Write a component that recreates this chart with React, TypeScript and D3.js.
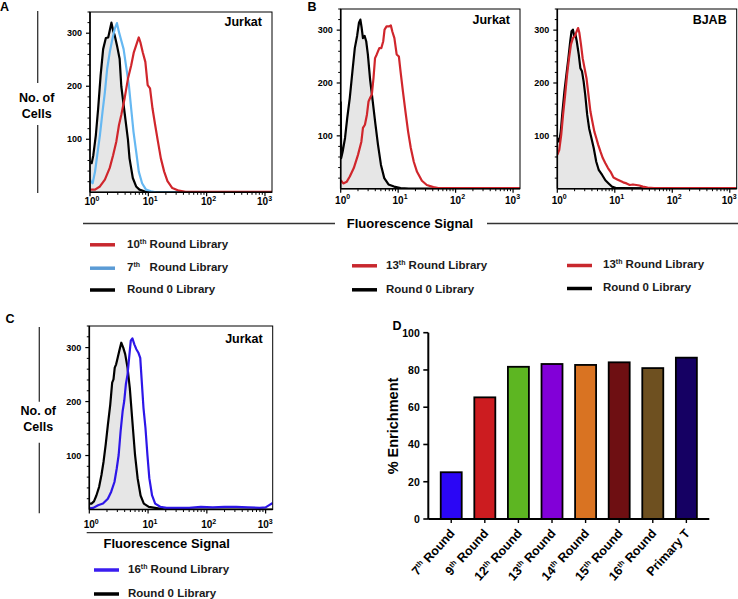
import React from "react";
import * as d3 from "d3";

type P = [number, number];

// ---------------- DATA ----------------
// Histogram series: [fluorescence intensity, number of cells]
const aRound0: P[] = [[1.0,58],[1.07,55],[1.14,70],[1.26,108],[1.38,158],[1.52,220],[1.68,270],[1.87,291],[2.05,292],[2.18,305],[2.33,320],[2.49,305],[2.65,296],[2.9,277],[3.22,252],[3.44,200],[3.92,150],[4.47,100],[4.76,64],[5.42,27],[6.18,11],[7.04,5],[8.55,2],[10.4,0],[1320,0]];
const aRound7: P[] = [[1.0,24],[1.03,21],[1.11,17],[1.22,39],[1.33,70],[1.48,108],[1.64,152],[1.8,189],[1.97,233],[2.18,264],[2.42,289],[2.65,308],[2.9,319],[3.14,302],[3.44,286],[3.77,270],[4.18,236],[4.64,202],[5.08,158],[5.57,114],[6.18,77],[6.86,39],[7.82,17],[9.12,5],[11.1,2],[13.5,0],[1320,0]];
const aRound10: P[] = [[1.0,5],[1.22,5],[1.48,11],[1.8,24],[2.18,46],[2.49,70],[2.83,96],[3.14,127],[3.44,146],[3.92,177],[4.47,214],[5.08,239],[5.64,264],[6.18,277],[6.86,292],[7.31,283],[8.02,264],[8.89,246],[9.75,202],[10.7,196],[11.8,158],[13.1,127],[14.6,96],[16.4,64],[18.7,39],[21.3,21],[25.8,8],[33.5,3],[43.5,1],[1320,1]];

const b1Round0: P[] = [[1.0,165],[1.02,58],[1.08,70],[1.19,96],[1.3,134],[1.44,172],[1.6,222],[1.76,266],[1.93,289],[2.08,314],[2.2,320],[2.32,304],[2.44,285],[2.61,289],[2.78,279],[2.97,254],[3.26,205],[3.61,165],[4.02,122],[4.46,83],[5.02,45],[5.73,20],[6.79,8],[8.49,4],[11.0,1],[15.3,0],[1320,0]];
const b1Round13: P[] = [[1.0,16],[1.11,10],[1.27,13],[1.44,23],[1.69,39],[2.0,64],[2.29,89],[2.44,115],[2.64,121],[2.86,140],[3.05,165],[3.26,172],[3.48,178],[3.72,209],[3.96,247],[4.24,254],[4.7,266],[5.09,266],[5.5,279],[5.8,301],[6.28,307],[6.97,307],[7.45,309],[7.94,297],[8.6,285],[9.42,254],[10.3,250],[11.0,222],[12.1,184],[13.4,146],[14.9,108],[16.6,77],[18.7,51],[21.3,32],[25.9,15],[31.5,7],[41.0,3],[49.9,1],[1320,1]];

const b2Round0: P[] = [[1.0,96],[1.08,89],[1.15,108],[1.23,146],[1.33,184],[1.44,216],[1.56,247],[1.68,279],[1.77,298],[1.87,301],[1.97,289],[2.07,292],[2.18,279],[2.36,254],[2.52,228],[2.69,222],[2.87,203],[3.06,178],[3.31,140],[3.58,114],[3.92,96],[4.3,77],[4.76,51],[5.28,35],[6.03,26],[6.86,16],[7.81,10],[8.89,4],[10.8,1],[1320,0]];
const b2Round13: P[] = [[1.0,64],[1.08,73],[1.17,102],[1.26,140],[1.37,178],[1.48,216],[1.6,247],[1.73,273],[1.87,285],[2.02,289],[2.18,298],[2.3,304],[2.42,295],[2.58,273],[2.76,247],[2.98,228],[3.22,209],[3.48,178],[3.77,146],[4.07,127],[4.41,108],[4.76,96],[5.15,83],[5.64,70],[6.18,58],[6.86,48],[7.61,39],[8.45,32],[9.49,21],[10.8,18],[12.3,15],[14.0,12],[16.0,10],[18.2,7],[20.7,8],[23.6,7],[26.9,6],[30.6,4],[37.2,2],[48.3,1],[1320,1]];

const cRound0: P[] = [[1.0,11],[1.09,11],[1.2,15],[1.32,26],[1.47,42],[1.61,64],[1.75,89],[1.9,120],[2.07,157],[2.27,194],[2.45,235],[2.58,241],[2.71,263],[2.86,269],[3.04,281],[3.24,294],[3.5,309],[3.78,300],[4.08,288],[4.47,263],[4.89,225],[5.41,163],[6.0,101],[6.64,58],[7.45,26],[8.47,11],[10.3,5],[13.2,3],[19.5,0],[1320,0]];
const cRound16: P[] = [[1.0,2],[1.17,3],[1.41,8],[1.71,11],[2.07,20],[2.36,33],[2.68,51],[2.93,76],[3.16,101],[3.41,145],[3.69,182],[3.93,201],[4.19,232],[4.47,250],[4.76,281],[5.08,313],[5.41,317],[5.84,306],[6.31,297],[6.81,291],[7.36,281],[7.74,244],[8.36,188],[9.03,151],[9.75,101],[10.5,58],[11.7,26],[13.2,11],[16.1,5],[20.7,3],[31.6,3],[50,3],[79,5],[126,4],[200,5],[316,5],[500,4],[794,3],[1000,4],[1150,8],[1320,12]];

const xDomainMax = 1320;
const yDomainMax = 340;
const yMajorTicks = [100, 200, 300];
const xMajorTicks = [1, 10, 100, 1000];

// Bar chart D
const barCategories = ["7th Round", "9th Round", "12th Round", "13th Round", "14th Round", "15th Round", "16th Round", "Primary T"];
const barValues = [25.1, 65.3, 81.7, 83.2, 82.7, 84.1, 81.0, 86.6];
const barColors = ["#2b06f5", "#cc1c20", "#5db622", "#8200d8", "#d97322", "#6e0f12", "#6e5020", "#150063"];
const barYTicks = [0, 20, 40, 60, 80, 100];

// ---------------- STYLE ----------------
const FONT = "'Liberation Sans', Arial, Helvetica, sans-serif";
const RED = "#d0262c";
const LIGHTBLUE = "#66b8f2";
const BLUE = "#2d16e8";
const BLACK = "#000";
const FILL = "#e6e6e6";

function SupText(props: any) {
  const { text, supSize, supShift, ...rest } = props;
  const m = text.match(/^(\d+)(th)(.*)$/s);
  if (!m) return <text {...rest} style={{ whiteSpace: "pre" }}>{text}</text>;
  return (
    <text {...rest} style={{ whiteSpace: "pre" }}>
      <tspan>{m[1]}</tspan>
      <tspan fontSize={supSize} dy={-supShift}>{m[2]}</tspan>
      <tspan dy={supShift}>{m[3]}</tspan>
    </text>
  );
}

type Series = { data: P[]; color: string; fill?: boolean };

function Histo(props: { x0: number; x1: number; yb: number; yt: number; series: Series[]; label: string; labelY: number; tickY: number }) {
  const { x0, x1, yb, yt, series, label, labelY, tickY } = props;
  const x = d3.scaleLog().domain([1, xDomainMax]).range([x0, x1]);
  const y = d3.scaleLinear().domain([0, yDomainMax]).range([yb, yt]);
  const line = d3.line<P>().x((d) => x(d[0])).y((d) => y(d[1]));
  const area = d3.area<P>().x((d) => x(d[0])).y0(y(0)).y1((d) => y(d[1]));
  const id = `clip_${Math.round(x0)}_${Math.round(yb)}`;
  const minorX = x.ticks().filter((t) => !xMajorTicks.includes(t) && t <= xDomainMax);
  const minorY = d3.range(20, yDomainMax + 1, 20).filter((t) => !yMajorTicks.includes(t));
  return (
    <g>
      <defs>
        <clipPath id={id}>
          <rect x={x0} y={yt} width={x1 - x0} height={yb - yt} />
        </clipPath>
      </defs>
      <g clipPath={`url(#${id})`}>
        {series.filter((s) => s.fill).map((s, i) => (
          <path key={"f" + i} d={area(s.data) || ""} fill={FILL} stroke="none" />
        ))}
        {series.map((s, i) => (
          <path key={"l" + i} d={line(s.data) || ""} fill="none" stroke={s.color} strokeWidth={2.2} strokeLinejoin="round" />
        ))}
      </g>
      <rect x={x0} y={yt} width={x1 - x0} height={yb - yt} fill="none" stroke="#000" strokeWidth={1} />
      <line x1={x0} x2={x0} y1={yt} y2={yb} stroke="#000" strokeWidth={1.6} />
      <line x1={x0} x2={x1} y1={yb} y2={yb} stroke="#000" strokeWidth={1.6} />
      {yMajorTicks.map((t) => (
        <g key={"ym" + t}>
          <line x1={x0 - 4} x2={x0} y1={y(t)} y2={y(t)} stroke="#000" strokeWidth={1.2} />
          <text x={x0 - 8} y={y(t) + 3.2} textAnchor="end" fontSize={9} fontWeight="bold" fontFamily={FONT}>{t}</text>
        </g>
      ))}
      {minorY.map((t) => (
        <line key={"yn" + t} x1={x0 - 2.5} x2={x0} y1={y(t)} y2={y(t)} stroke="#000" strokeWidth={1} />
      ))}
      {minorX.map((t) => (
        <line key={"xn" + t} x1={x(t)} x2={x(t)} y1={yb} y2={yb + 2.5} stroke="#000" strokeWidth={1} />
      ))}
      {xMajorTicks.map((t, i) => {
        const lx = Math.min(x(t) - 5.6, x1 + 1 - 16);
        return (
          <g key={"xm" + t}>
            <line x1={x(t)} x2={x(t)} y1={yb} y2={yb + 4} stroke="#000" strokeWidth={1.2} />
            <text x={lx} y={tickY} fontSize={10} fontWeight="bold" fontFamily={FONT}>
              10<tspan fontSize={7} dy={-4.5}>{i}</tspan>
            </text>
          </g>
        );
      })}
      <text x={x1 - 10} y={labelY} textAnchor="end" fontSize={12.5} fontWeight="bold" fontFamily={FONT}>{label}</text>
    </g>
  );
}

function Legend(props: { items: { color: string; label: string; y: number }[]; lx: number; tx: number }) {
  const { items, lx, tx } = props;
  return (
    <g>
      {items.map((it, i) => (
        <g key={i}>
          <line x1={lx} x2={lx + 25} y1={it.y + 1.5} y2={it.y + 1.5} stroke={it.color} strokeWidth={3.5} />
          <SupText text={it.label} x={tx} y={it.y + 4.2} fontSize={11.5} fontWeight="bold" fontFamily={FONT} fill="#1a1a1a" supSize={7} supShift={4} />
        </g>
      ))}
    </g>
  );
}

function YTitle(props: { x: number; y1: number; y2: number; y3: number; y4: number; ty: number }) {
  const { x, y1, y2, y3, y4, ty } = props;
  return (
    <g>
      <line x1={x} x2={x} y1={y1} y2={y2} stroke="#333" strokeWidth={1.3} />
      <line x1={x} x2={x} y1={y3} y2={y4} stroke="#333" strokeWidth={1.3} />
      <text x={x - 1} y={ty} textAnchor="middle" fontSize={12.5} fontWeight="bold" fontFamily={FONT}>No. of</text>
      <text x={x - 1} y={ty + 16.5} textAnchor="middle" fontSize={12.5} fontWeight="bold" fontFamily={FONT}>Cells</text>
    </g>
  );
}

function Bars() {
  const xl = 428.3, xr = 709.3, yb = 519, yt = 332.7;
  const x = d3.scaleBand<string>().domain(barCategories).range([xl, xr]).paddingInner(0.375).paddingOuter(0.37);
  const y = d3.scaleLinear().domain([0, 100]).range([yb, yt]);
  return (
    <g>
      {barCategories.map((c, i) => (
        <rect key={c} x={x(c)} y={y(barValues[i])} width={x.bandwidth()} height={y(0) - y(barValues[i])} fill={barColors[i]} stroke="#000" strokeWidth={1.8} />
      ))}
      <line x1={xl} x2={xl} y1={yt} y2={yb} stroke="#000" strokeWidth={2} />
      <line x1={xl} x2={xr} y1={yb} y2={yb} stroke="#000" strokeWidth={2} />
      {barYTicks.map((t) => (
        <g key={t}>
          <line x1={xl - 5} x2={xl} y1={y(t)} y2={y(t)} stroke="#000" strokeWidth={1.6} />
          <text x={xl - 8.5} y={y(t) + 3.8} textAnchor="end" fontSize={10.5} fontWeight="bold" fontFamily={FONT}>{t}</text>
        </g>
      ))}
      {barCategories.map((c) => {
        const cx = (x(c) as number) + x.bandwidth() / 2;
        return (
          <g key={"t" + c}>
            <line x1={cx} x2={cx} y1={yb} y2={yb + 4} stroke="#000" strokeWidth={1.4} />
            <SupText text={c} x={0} y={0} dy="0.35em" transform={`translate(${cx + 1},${yb + 12}) rotate(-48)`} textAnchor="end" fontSize={12.5} fontWeight="bold" fontFamily={FONT} supSize={7.5} supShift={4.5} />
          </g>
        );
      })}
      <text transform={`translate(398,426) rotate(-90)`} textAnchor="middle" fontSize={14.5} fontWeight="bold" fontFamily={FONT}>% Enrichment</text>
    </g>
  );
}

export default function App() {
  const pA = { x0: 90, x1: 272, yb: 192.3, yt: 12 };
  const pB1 = { x0: 340.7, x1: 520, yb: 188.7, yt: 9 };
  const pB2 = { x0: 557.3, x1: 736.7, yb: 188.7, yt: 9 };
  const pC = { x0: 89.3, x1: 272.7, yb: 509.5, yt: 326 };
  return (
    <svg width={738} height={599} viewBox="0 0 738 599" style={{ position: "absolute", left: 0, top: 0, background: "#fff" }} fontFamily={FONT}>
      <rect x={0} y={0} width={738} height={599} fill="#fff" />
      {/* Panel letters */}
      <text x={0} y={11} fontSize={12.5} fontWeight="bold">A</text>
      <text x={307.5} y={11} fontSize={12.5} fontWeight="bold">B</text>
      <text x={5.5} y={322.5} fontSize={12.5} fontWeight="bold">C</text>
      <text x={392.5} y={329.5} fontSize={12.5} fontWeight="bold">D</text>

      {/* Panel A */}
      <YTitle x={37.7} y1={11} y2={83} y3={125} y4={193} ty={101.5} />
      <Histo {...pA} label="Jurkat" labelY={26} tickY={205} series={[
        { data: aRound0, color: BLACK, fill: true },
        { data: aRound7, color: LIGHTBLUE },
        { data: aRound10, color: RED },
      ]} />

      {/* Panel B */}
      <Histo {...pB1} label="Jurkat" labelY={24} tickY={203.5} series={[
        { data: b1Round0, color: BLACK, fill: true },
        { data: b1Round13, color: RED },
      ]} />
      <Histo {...pB2} label="BJAB" labelY={24} tickY={203.5} series={[
        { data: b2Round0, color: BLACK, fill: true },
        { data: b2Round13, color: RED },
      ]} />

      {/* Fluorescence Signal row for A/B */}
      <line x1={83} x2={335} y1={223.5} y2={223.5} stroke="#333" strokeWidth={1.3} />
      <line x1={487} x2={738} y1={223.5} y2={223.5} stroke="#333" strokeWidth={1.3} />
      <text x={410} y={228} textAnchor="middle" fontSize={13} fontWeight="bold">Fluorescence Signal</text>

      <Legend lx={90} tx={127} items={[
        { color: "#c8282e", label: "10th Round Library", y: 243.3 },
        { color: "#5b9bd5", label: "7th   Round Library", y: 266.7 },
        { color: "#000", label: "Round 0 Library", y: 288.5 },
      ]} />
      <Legend lx={352} tx={386} items={[
        { color: "#c8282e", label: "13th Round Library", y: 264.3 },
        { color: "#000", label: "Round 0 Library", y: 288.3 },
      ]} />
      <Legend lx={567} tx={603} items={[
        { color: "#c8282e", label: "13th Round Library", y: 264 },
        { color: "#000", label: "Round 0 Library", y: 287 },
      ]} />

      {/* Panel C */}
      <YTitle x={39.3} y1={327} y2={401.7} y3={442.7} y4={513.3} ty={414.5} />
      <Histo {...pC} label="Jurkat" labelY={343.3} tickY={528} series={[
        { data: cRound0, color: BLACK, fill: true },
        { data: cRound16, color: BLUE },
      ]} />
      <line x1={86.7} x2={272.7} y1={532.7} y2={532.7} stroke="#333" strokeWidth={1.3} />
      <text x={166.7} y={547.5} textAnchor="middle" fontSize={13} fontWeight="bold">Fluorescence Signal</text>
      <Legend lx={94} tx={128} items={[
        { color: "#3a1df0", label: "16th Round Library", y: 568.5 },
        { color: "#000", label: "Round 0 Library", y: 592.5 },
      ]} />

      {/* Panel D */}
      <Bars />
    </svg>
  );
}
